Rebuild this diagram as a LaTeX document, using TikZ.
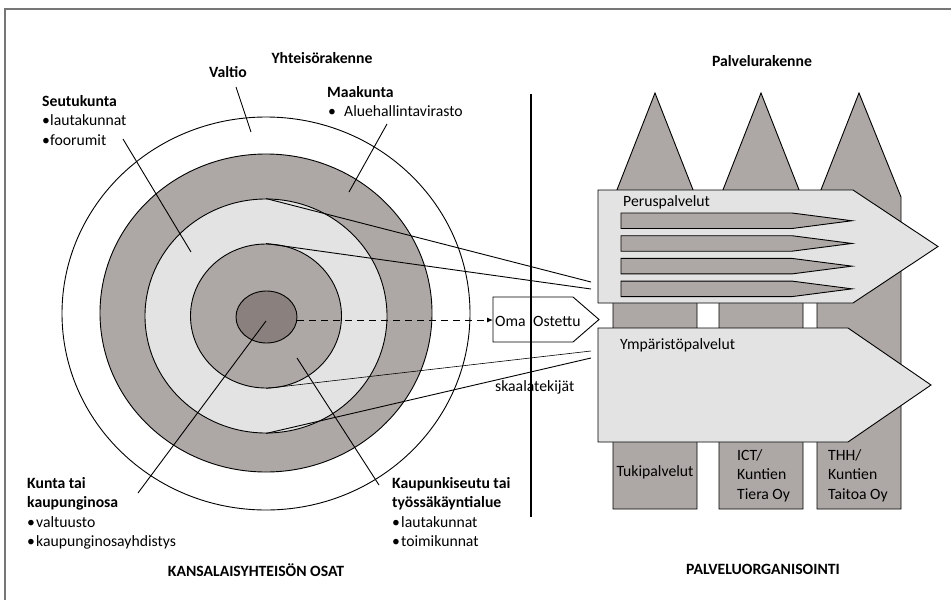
\documentclass[tikz,border=0pt]{standalone}
\usepackage{fontspec}
\setmainfont{Carlito}
\usetikzlibrary{shapes.geometric,arrows.meta}

\definecolor{ringdark}{RGB}{173,168,165}
\definecolor{ringlight}{RGB}{227,227,227}
\definecolor{coregray}{RGB}{138,128,125}
\definecolor{framegray}{RGB}{118,118,118}

\tikzset{
  txt/.style={inner sep=0pt, font=\fontsize{15.7pt}{19.5pt}\selectfont, align=left, anchor=base west},
  head/.style={txt, font=\fontsize{15.7pt}{19.5pt}\selectfont\bfseries},
  ring/.style={ellipse, draw, line width=0.9pt, inner sep=0pt},
  leader/.style={line width=0.9pt},
  outlined/.style={draw, line width=0.9pt, line join=miter},
}
\newcommand{\blt}[1]{\makebox[#1][l]{•}}

\begin{document}
\begin{tikzpicture}[x=1pt,y=-1pt]
\useasboundingbox (0,0) rectangle (951,600);

% outer frame
\draw[framegray, line width=1.5pt] (5,600) -- (5,9) -- (951,9);

% concentric levels of the community structure
\node[ring, fill=white, minimum width=408pt, minimum height=393pt] (valtio) at (266,313.5) {};
\node[ring, fill=ringdark, minimum width=332pt, minimum height=318pt] (maak) at (266,313) {};
\node[ring, fill=ringlight, minimum width=242pt, minimum height=234pt] (seutu) at (266,316) {};
\node[ring, fill=ringdark, minimum width=151pt, minimum height=144pt] (kseutu) at (266,316) {};
\node[ring, fill=coregray, minimum width=61pt, minimum height=52pt] (kunta) at (266.5,317) {};

% leader line end points
\coordinate (valtioA) at (236,87);
\coordinate (valtioB) at (251,132);
\coordinate (maakA) at (387,124);
\coordinate (maakB) at (349,192);
\coordinate (seutuA) at (123,139);
\coordinate (seutuB) at (191,252);
\coordinate (kuntaA) at (266,321);
\coordinate (kuntaB) at (138,493);
\coordinate (kseutuA) at (297,358);
\coordinate (kseutuB) at (379,485);

\draw[leader] (valtioA) -- (valtioB);
\draw[leader] (maakA) -- (maakB);
\draw[leader] (seutuA) -- (seutuB);
\draw[leader] (kuntaA) -- (kuntaB);
\draw[leader] (kseutuA) -- (kseutuB);

% scale lines towards the service arrows
\coordinate (s1) at (591,282);
\coordinate (s2) at (591,289);
\coordinate (s3) at (591,351);
\coordinate (s4) at (591,358);
\draw[leader] (seutu.north) -- (s1);
\draw[leader] (kseutu.north) -- (s2);
\draw[line width=0.6pt] (kseutu.south) -- (s3);
\draw[leader] (seutu.south) -- (s4);

% own / purchased arrow
\draw[outlined, fill=white] (493,297) -- (573,297) -- (599,319.5) -- (573,342) -- (493,342) -- cycle;
\coordinate (omaW) at (493,320);
\draw[line width=0.9pt, dash pattern=on 7pt off 5pt, -{Latex[length=6pt,width=5pt]}] (kunta.east |- omaW) -- (omaW);

% divider
\draw[line width=1.7pt] (531,94) -- (531,517);

% service pillars
\draw[outlined, fill=ringdark] (613,509) -- (613,200) -- (655,93) -- (697,200) -- (697,509) -- cycle;
\draw[outlined, fill=ringdark] (719,509) -- (719,200) -- (761,93) -- (803,200) -- (803,509) -- cycle;
\draw[outlined, fill=ringdark] (817,509) -- (817,200) -- (859,93) -- (901,197) -- (901,509) -- cycle;

% horizontal service arrows
\draw[outlined, fill=ringlight] (598,190) -- (853,190) -- (938,246.5) -- (853,303) -- (598,303) -- cycle;
\draw[outlined, fill=ringlight] (598,328) -- (848,328) -- (931,385) -- (848,442) -- (598,442) -- cycle;

\foreach \t in {213,235.7,258.4,281.1}{
  \draw[outlined, fill=ringdark] (621,\t) -- (792,\t) -- (852,\t+7.75) -- (792,\t+15.5) -- (621,\t+15.5) -- cycle;
}

% texts (multi-line nodes are placed by the baseline of their last line)
\node[head, anchor=base] (tYht) at (322,63) {Yhteisörakenne};
\node[head, anchor=base] (tValtio) at (228,77) {Valtio};
\node[head, anchor=base] (tPalv) at (762,66) {Palvelurakenne};

\node[txt] (tSeutu) at (42,145) {\textbf{Seutukunta}\\\blt{8pt}lautakunnat\\\blt{8pt}foorumit};
\node[txt] (tMaak) at (327,116.5) {\textbf{Maakunta}\\\hspace{1pt}\blt{16pt}Aluehallintavirasto};
\node[txt] (tKunta) at (27,546.5) {\textbf{Kunta tai}\\\textbf{kaupunginosa}\\\blt{9pt}valtuusto\\\blt{9pt}kaupunginosayhdistys};
\node[txt] (tKseutu) at (392,546.5) {\textbf{Kaupunkiseutu tai}\\\textbf{työssäkäyntialue}\\\blt{9pt}lautakunnat\\\blt{9pt}toimikunnat};

\node[head, anchor=base] (tKans) at (256,576) {KANSALAISYHTEISÖN OSAT};
\node[head, anchor=base] (tOrg) at (763,574) {PALVELUORGANISOINTI};

\node[txt] (tOma) at (495,326) {Oma};
\node[txt] (tOst) at (533,326) {Ostettu};
\node[txt] (tSkaala) at (495,391) {skaalatekijät};

\node[txt] (tPerus) at (623,206) {Peruspalvelut};
\node[txt] (tYmp) at (620,349) {Ympäristöpalvelut};

\node[txt, anchor=base] (tTuki) at (655,476) {Tukipalvelut};
\node[txt] (tICT) at (737,499) {ICT/\\Kuntien\\Tiera Oy};
\node[txt] (tTHH) at (828,499) {THH/\\Kuntien\\Taitoa Oy};
\end{tikzpicture}
\end{document}
